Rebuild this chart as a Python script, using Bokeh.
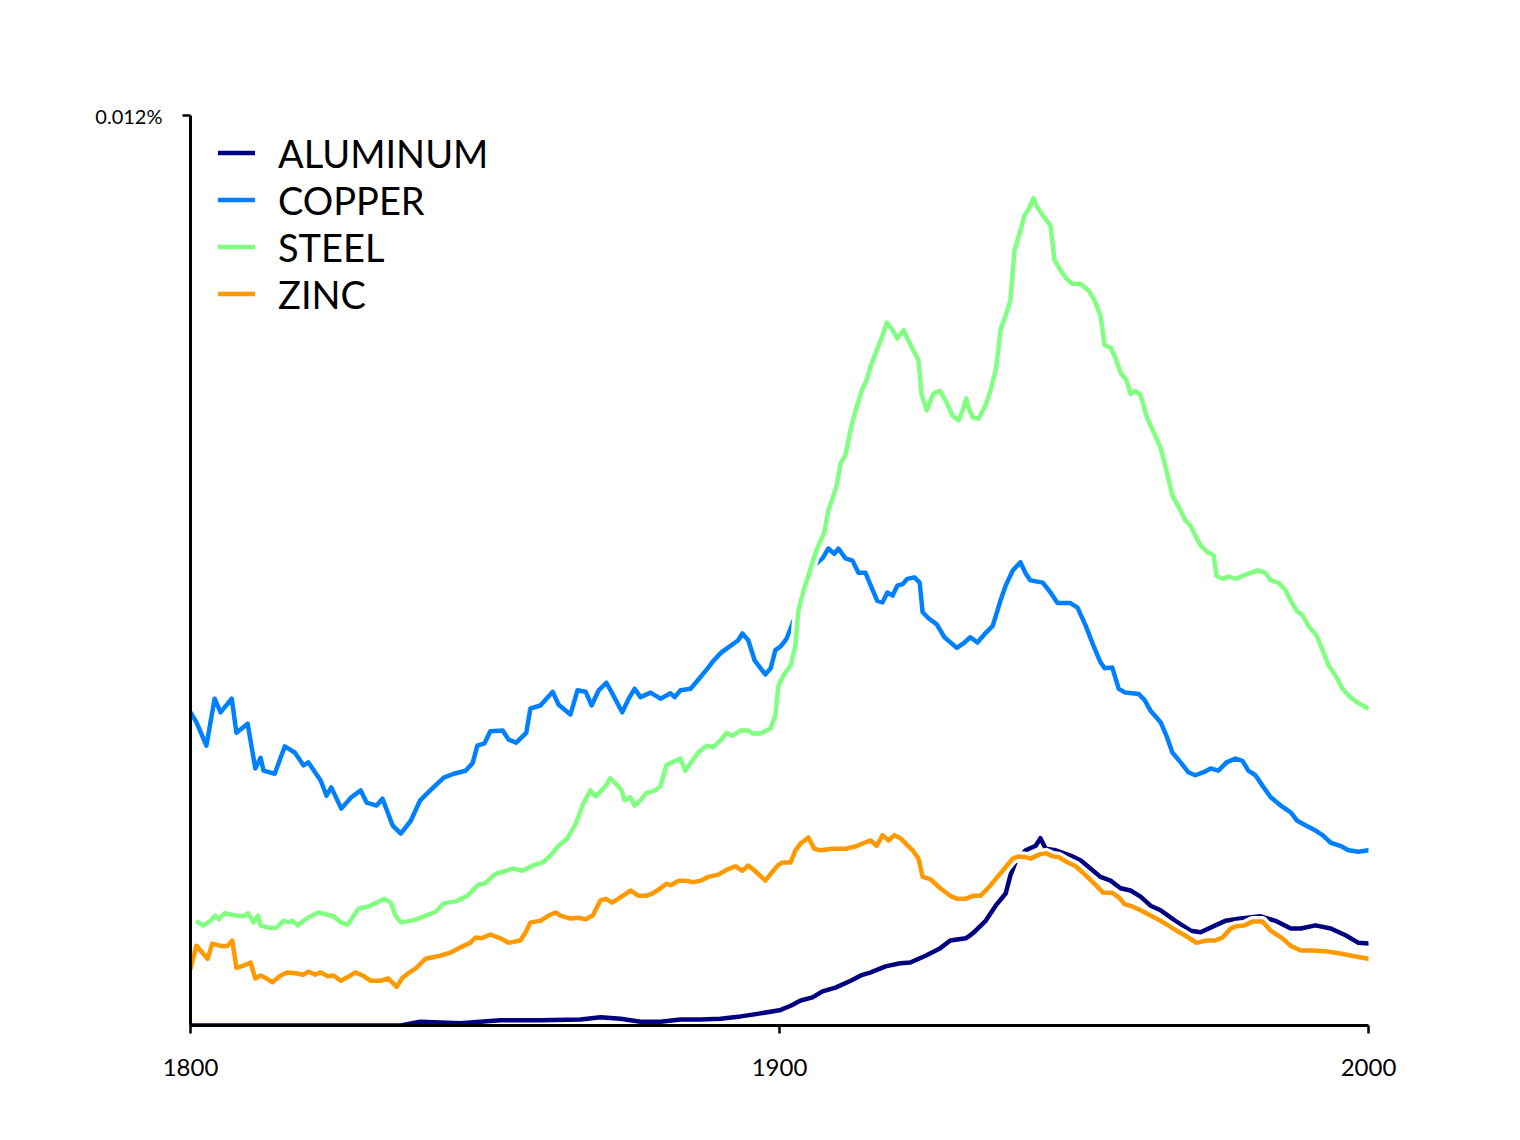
from bokeh.plotting import figure
from bokeh.models import FixedTicker, Legend, LegendItem
from bokeh.embed import file_html
from bokeh.resources import INLINE

FONT = "Lato"

# values are in thousandths of a percent (12 -> 0.012%)
aluminum_years = [1800.0, 1835.7, 1839.0, 1845.8, 1852.6, 1859.4, 1866.2, 1869.6, 1873.0, 1876.4,
                  1879.8, 1883.2, 1886.6, 1890.0, 1893.4, 1896.8, 1900.0, 1901.9, 1903.6, 1905.6,
                  1907.3, 1909.5, 1912.1, 1913.8, 1915.5, 1918.0, 1920.5, 1922.2, 1924.8, 1927.3,
                  1929.0, 1931.6, 1932.4, 1933.3, 1935.0, 1936.7, 1938.4, 1939.2, 1940.2, 1941.8,
                  1943.5, 1944.3, 1945.2, 1946.9, 1949.4, 1951.1, 1952.8, 1954.5, 1956.2, 1957.9,
                  1959.6, 1961.3, 1963.0, 1964.7, 1967.2, 1969.8, 1971.5, 1974.0, 1975.7, 1978.3,
                  1981.7, 1984.2, 1986.8, 1988.5, 1991.0, 1993.6, 1996.1, 1998.3, 2000.0]
aluminum = [0, 0, 0.05, 0.03, 0.07, 0.07, 0.08, 0.11, 0.09, 0.05,
            0.05, 0.08, 0.08, 0.09, 0.12, 0.16, 0.20, 0.26, 0.33, 0.37,
            0.45, 0.50, 0.59, 0.66, 0.70, 0.78, 0.82, 0.83, 0.92, 1.02,
            1.12, 1.15, 1.19, 1.25, 1.38, 1.58, 1.74, 1.98, 2.18, 2.31,
            2.37, 2.47, 2.33, 2.31, 2.24, 2.18, 2.07, 1.96, 1.91, 1.81,
            1.78, 1.70, 1.58, 1.52, 1.38, 1.25, 1.23, 1.32, 1.38, 1.41,
            1.44, 1.38, 1.28, 1.28, 1.32, 1.28, 1.19, 1.09, 1.08]

copper_years = [1800.0, 1801.0, 1802.7, 1804.1, 1805.1, 1807.0, 1807.8, 1809.7, 1811.0, 1811.9,
                1812.4, 1814.3, 1816.0, 1817.7, 1819.2, 1820.0, 1822.1, 1823.1, 1823.9, 1825.6,
                1827.3, 1828.9, 1829.9, 1831.6, 1832.6, 1834.3, 1835.7, 1837.4, 1839.0, 1840.7,
                1843.0, 1844.7, 1846.7, 1847.9, 1848.7, 1849.9, 1850.9, 1853.0, 1854.0, 1855.3,
                1857.0, 1857.7, 1859.4, 1861.5, 1862.5, 1864.5, 1865.7, 1867.1, 1868.1, 1869.3,
                1870.6, 1871.6, 1873.3, 1874.4, 1875.4, 1876.4, 1878.1, 1879.8, 1881.5, 1882.2,
                1883.2, 1884.9, 1886.1, 1887.8, 1888.8, 1890.0, 1891.2, 1893.0, 1893.7, 1894.7,
                1895.8, 1896.8, 1897.6, 1898.5, 1899.3, 1900.2, 1901.2, 1904.4, 1905.9, 1907.3,
                1908.3, 1909.3, 1910.0, 1911.2, 1912.4, 1913.4, 1914.6, 1915.5, 1916.6, 1917.5,
                1918.3, 1919.2, 1920.0, 1920.9, 1921.7, 1922.9, 1923.8, 1924.3, 1925.3, 1926.7,
                1928.0, 1930.1, 1931.4, 1932.4, 1933.6, 1934.8, 1936.2, 1937.0, 1937.5, 1938.4,
                1939.6, 1940.9, 1941.8, 1942.6, 1944.7, 1946.0, 1947.2, 1949.4, 1950.6, 1952.0,
                1953.3, 1954.5, 1955.2, 1956.5, 1957.6, 1958.7, 1961.0, 1962.0, 1963.0, 1964.7,
                1965.7, 1966.7, 1968.1, 1969.4, 1970.6, 1972.0, 1973.2, 1974.5, 1975.9, 1977.4,
                1978.6, 1979.6, 1980.8, 1982.2, 1983.4, 1985.1, 1986.8, 1987.9, 1989.3, 1991.0,
                1992.2, 1993.6, 1995.2, 1996.6, 1998.3, 2000.0]
copper = [4.13, 4.00, 3.69, 4.31, 4.13, 4.31, 3.86, 3.98, 3.39, 3.53,
          3.36, 3.32, 3.68, 3.60, 3.43, 3.47, 3.23, 3.03, 3.14, 2.86,
          3.01, 3.10, 2.94, 2.90, 2.99, 2.64, 2.53, 2.70, 2.97, 3.10,
          3.27, 3.32, 3.36, 3.46, 3.69, 3.72, 3.88, 3.89, 3.77, 3.73,
          3.86, 4.18, 4.22, 4.40, 4.23, 4.10, 4.42, 4.40, 4.22, 4.42,
          4.52, 4.38, 4.13, 4.31, 4.44, 4.33, 4.39, 4.31, 4.38, 4.33,
          4.42, 4.44, 4.55, 4.71, 4.81, 4.91, 4.98, 5.08, 5.17, 5.08,
          4.81, 4.71, 4.63, 4.71, 4.95, 5.00, 5.10, 5.74, 6.07, 6.16,
          6.29, 6.22, 6.29, 6.16, 6.13, 5.97, 5.97, 5.80, 5.60, 5.58,
          5.71, 5.67, 5.80, 5.82, 5.89, 5.91, 5.84, 5.45, 5.37, 5.29,
          5.12, 4.98, 5.05, 5.12, 5.05, 5.16, 5.27, 5.47, 5.60, 5.80,
          6.00, 6.11, 5.96, 5.87, 5.84, 5.71, 5.57, 5.57, 5.51, 5.27,
          5.01, 4.79, 4.71, 4.72, 4.44, 4.39, 4.37, 4.29, 4.15, 4.00,
          3.82, 3.60, 3.47, 3.34, 3.30, 3.34, 3.39, 3.36, 3.47, 3.52,
          3.49, 3.36, 3.30, 3.14, 3.01, 2.90, 2.81, 2.70, 2.64, 2.57,
          2.51, 2.41, 2.37, 2.31, 2.29, 2.31]

steel_years = [1801.2, 1802.2, 1803.4, 1804.2, 1804.8, 1805.8, 1807.6, 1809.0, 1809.8, 1810.7,
               1811.5, 1811.9, 1813.2, 1814.6, 1815.8, 1816.6, 1817.3, 1818.2, 1819.7, 1821.7,
               1824.3, 1825.5, 1826.7, 1827.5, 1828.5, 1830.2, 1831.6, 1832.9, 1834.0, 1834.8,
               1835.7, 1837.4, 1839.0, 1841.6, 1843.0, 1845.2, 1847.0, 1848.9, 1849.9, 1851.8,
               1853.5, 1854.8, 1856.4, 1858.1, 1859.8, 1861.1, 1862.5, 1864.0, 1865.4, 1866.7,
               1867.9, 1868.8, 1870.5, 1871.3, 1872.2, 1873.2, 1873.7, 1874.7, 1875.4, 1876.4,
               1877.3, 1878.9, 1879.8, 1880.8, 1881.8, 1883.2, 1884.0, 1884.9, 1886.2, 1887.6,
               1888.8, 1890.0, 1891.0, 1892.0, 1893.4, 1894.7, 1895.4, 1896.8, 1898.5, 1899.3,
               1899.8, 1900.7, 1901.9, 1902.7, 1903.2, 1904.1, 1904.9, 1905.8, 1906.6, 1907.6,
               1908.3, 1909.0, 1909.7, 1910.4, 1911.2, 1912.1, 1912.9, 1914.1, 1914.8, 1915.5,
               1916.5, 1917.5, 1918.2, 1919.2, 1920.0, 1921.1, 1921.9, 1922.9, 1923.6, 1924.1,
               1925.0, 1926.1, 1927.2, 1928.2, 1929.4, 1930.4, 1931.1, 1931.7, 1932.1, 1932.8,
               1933.8, 1935.0, 1935.8, 1936.7, 1937.2, 1937.5, 1938.4, 1939.2, 1939.9, 1940.9,
               1941.6, 1942.6, 1943.1, 1943.6, 1944.7, 1946.0, 1946.7, 1947.7, 1948.7, 1949.7,
               1951.1, 1952.5, 1953.5, 1954.5, 1955.2, 1956.2, 1957.0, 1957.9, 1958.9, 1959.6,
               1960.4, 1961.3, 1962.3, 1963.0, 1964.7, 1965.5, 1966.7, 1968.1, 1968.9, 1969.8,
               1970.6, 1971.5, 1972.7, 1973.7, 1974.2, 1975.2, 1976.2, 1977.6, 1978.6, 1980.0,
               1981.3, 1982.5, 1983.4, 1984.7, 1985.9, 1986.8, 1987.8, 1988.8, 1989.8, 1991.2,
               1992.2, 1993.2, 1994.6, 1995.6, 1996.9, 1998.3, 2000.0]
steel = [1.36, 1.32, 1.38, 1.45, 1.40, 1.48, 1.45, 1.44, 1.48, 1.36,
         1.45, 1.32, 1.29, 1.29, 1.38, 1.36, 1.38, 1.32, 1.41, 1.49,
         1.44, 1.36, 1.33, 1.42, 1.54, 1.57, 1.62, 1.67, 1.62, 1.45,
         1.36, 1.38, 1.42, 1.50, 1.61, 1.64, 1.71, 1.86, 1.87, 2.00,
         2.04, 2.07, 2.04, 2.11, 2.15, 2.24, 2.37, 2.47, 2.66, 2.93,
         3.10, 3.02, 3.16, 3.26, 3.19, 3.10, 2.97, 3.01, 2.90, 2.97,
         3.06, 3.10, 3.16, 3.43, 3.47, 3.52, 3.36, 3.46, 3.60, 3.69,
         3.67, 3.76, 3.86, 3.82, 3.89, 3.89, 3.85, 3.85, 3.92, 4.09,
         4.48, 4.62, 4.75, 5.01, 5.47, 5.74, 5.93, 6.16, 6.33, 6.50,
         6.79, 6.95, 7.12, 7.42, 7.52, 7.87, 8.11, 8.40, 8.51, 8.70,
         8.90, 9.10, 9.27, 9.17, 9.06, 9.17, 9.03, 8.88, 8.77, 8.33,
         8.11, 8.33, 8.37, 8.24, 8.04, 7.98, 8.11, 8.27, 8.15, 8.02,
         8.00, 8.18, 8.37, 8.64, 8.93, 9.17, 9.36, 9.56, 10.22, 10.48,
         10.68, 10.81, 10.91, 10.81, 10.68, 10.55, 10.09, 9.96, 9.85, 9.78,
         9.78, 9.69, 9.56, 9.36, 8.97, 8.94, 8.81, 8.61, 8.51, 8.33,
         8.37, 8.31, 8.04, 7.91, 7.62, 7.38, 6.99, 6.79, 6.66, 6.59,
         6.46, 6.33, 6.24, 6.20, 5.93, 5.89, 5.92, 5.89, 5.93, 5.97,
         6.00, 5.97, 5.87, 5.84, 5.74, 5.60, 5.47, 5.41, 5.27, 5.14,
         4.95, 4.75, 4.59, 4.44, 4.33, 4.25, 4.18]

zinc_years = [1800.0, 1801.0, 1801.7, 1802.9, 1803.7, 1805.1, 1806.3, 1807.1, 1807.8, 1809.0,
              1810.2, 1811.0, 1811.9, 1812.7, 1813.9, 1815.3, 1816.5, 1817.8, 1819.2, 1820.0,
              1821.2, 1822.1, 1823.3, 1824.3, 1825.5, 1827.2, 1828.0, 1829.2, 1830.6, 1832.3,
              1833.6, 1835.0, 1836.0, 1837.0, 1838.2, 1839.9, 1841.1, 1842.4, 1844.1, 1845.8,
              1847.5, 1848.4, 1849.4, 1850.9, 1852.6, 1854.0, 1856.0, 1856.9, 1857.7, 1859.4,
              1860.8, 1862.0, 1862.8, 1864.5, 1865.9, 1867.1, 1868.3, 1869.6, 1870.5, 1871.6,
              1873.0, 1874.7, 1876.1, 1877.3, 1878.4, 1879.8, 1880.8, 1881.5, 1882.9, 1884.0,
              1885.4, 1886.6, 1887.9, 1889.6, 1891.2, 1892.5, 1893.7, 1894.7, 1896.1, 1897.6,
              1898.5, 1899.7, 1900.5, 1901.9, 1902.7, 1903.6, 1904.9, 1905.9, 1907.0, 1909.0,
              1911.2, 1912.9, 1914.1, 1915.5, 1916.5, 1917.5, 1918.5, 1919.5, 1920.5, 1922.6,
              1923.6, 1924.3, 1925.6, 1927.3, 1929.0, 1930.2, 1931.6, 1932.8, 1934.1, 1935.5,
              1936.8, 1938.2, 1939.6, 1940.6, 1941.8, 1942.6, 1944.3, 1945.3, 1946.4, 1947.4,
              1948.7, 1950.3, 1952.0, 1953.7, 1955.0, 1956.5, 1957.6, 1958.6, 1959.9, 1961.3,
              1963.0, 1964.7, 1966.0, 1967.4, 1968.8, 1970.8, 1972.5, 1973.9, 1975.2, 1976.6,
              1977.6, 1978.9, 1980.3, 1982.0, 1983.4, 1985.4, 1986.8, 1988.5, 1990.5, 1992.7,
              1995.2, 1997.8, 2000.0]
zinc = [0.75, 1.05, 0.99, 0.88, 1.08, 1.05, 1.05, 1.12, 0.76, 0.79,
        0.83, 0.62, 0.66, 0.63, 0.57, 0.66, 0.70, 0.69, 0.67, 0.71,
        0.67, 0.70, 0.65, 0.66, 0.59, 0.66, 0.70, 0.66, 0.59, 0.59,
        0.62, 0.51, 0.63, 0.69, 0.75, 0.88, 0.90, 0.92, 0.96, 1.03,
        1.09, 1.16, 1.15, 1.20, 1.15, 1.09, 1.12, 1.23, 1.36, 1.38,
        1.45, 1.49, 1.45, 1.41, 1.42, 1.40, 1.45, 1.65, 1.67, 1.62,
        1.69, 1.78, 1.71, 1.71, 1.74, 1.81, 1.87, 1.85, 1.91, 1.91,
        1.89, 1.91, 1.96, 1.99, 2.06, 2.10, 2.04, 2.11, 2.02, 1.91,
        2.00, 2.11, 2.15, 2.15, 2.31, 2.40, 2.48, 2.33, 2.31, 2.33,
        2.33, 2.36, 2.40, 2.44, 2.37, 2.51, 2.44, 2.51, 2.47, 2.31,
        2.20, 1.96, 1.93, 1.81, 1.71, 1.67, 1.67, 1.71, 1.71, 1.82,
        1.94, 2.07, 2.20, 2.23, 2.22, 2.20, 2.26, 2.27, 2.23, 2.22,
        2.16, 2.10, 1.98, 1.85, 1.75, 1.75, 1.69, 1.60, 1.57, 1.52,
        1.45, 1.38, 1.32, 1.25, 1.19, 1.09, 1.12, 1.12, 1.16, 1.28,
        1.31, 1.32, 1.37, 1.37, 1.25, 1.15, 1.05, 0.99, 0.99, 0.98,
        0.95, 0.91, 0.88]

series = [
    ("ALUMINUM", aluminum_years, aluminum, "#000080"),
    ("COPPER", copper_years, copper, "#0080ff"),
    ("STEEL", steel_years, steel, "#80ff80"),
    ("ZINC", zinc_years, zinc, "#ff9900"),
]

p = figure(width=1508, height=1128, x_range=(1800, 2000), y_range=(0, 12),
           output_backend="svg", toolbar_location=None, tools="",
           min_border_left=190, min_border_right=140,
           min_border_top=115, min_border_bottom=103)

p.background_fill_color = "white"
p.border_fill_color = "white"
p.outline_line_color = None
p.xgrid.grid_line_color = None
p.ygrid.grid_line_color = None

# lines with a white halo, xkcd style
items = []
for name, xs, ys, color in series:
    p.line(xs, ys, line_color="white", line_width=11, line_join="round", line_cap="round")
    r = p.line(xs, ys, line_color=color, line_width=4.5, line_join="round", line_cap="round")
    items.append(LegendItem(label=name, renderers=[r]))

p.xaxis.ticker = FixedTicker(ticks=[1800, 1900, 2000])
p.yaxis.ticker = FixedTicker(ticks=[12])
p.yaxis.major_label_overrides = {12: "0.012%"}

for ax in (p.xaxis, p.yaxis):
    ax.axis_line_color = "black"
    ax.axis_line_width = 3
    ax.major_tick_line_color = "black"
    ax.major_tick_line_width = 2.5
    ax.major_tick_in = 0
    ax.major_tick_out = 8
    ax.minor_tick_line_color = None
    ax.major_label_text_font = FONT
    ax.major_label_text_color = "black"

p.xaxis.major_label_text_font_size = "24px"
p.xaxis.major_label_standoff = 25
p.yaxis.major_label_text_font_size = "20px"
p.yaxis.major_label_standoff = 20

legend = Legend(items=items, location=(28, 708), orientation="vertical",
                label_text_font=FONT, label_text_font_size="38px",
                label_text_color="black", glyph_width=37, glyph_height=47,
                label_height=47, label_standoff=23, spacing=0,
                padding=0, margin=0, border_line_color=None,
                background_fill_alpha=0)
p.add_layout(legend)

open("out.html", "w").write(file_html(p, INLINE))
